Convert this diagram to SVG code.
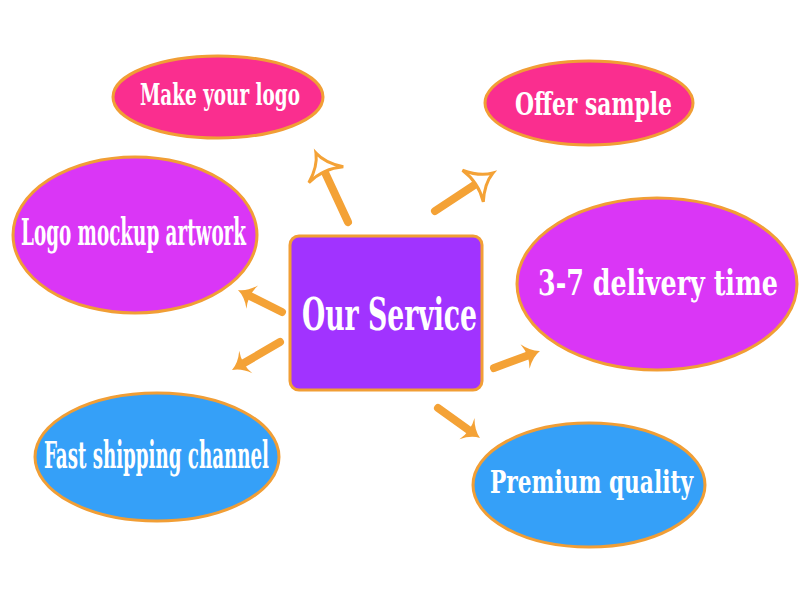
<svg xmlns="http://www.w3.org/2000/svg" width="800" height="600" viewBox="0 0 800 600">
<style>
.node{stroke:#F19E35;stroke-width:3}
.pink{fill:#FA2E8F}
.violet{fill:#DA36F6}
.blue{fill:#35A0F8}
.center{fill:#A133FF}
.lbl{fill:#FFFFFF;font-family:"DejaVu Serif Condensed","DejaVu Serif","Liberation Serif",serif;font-weight:bold;font-stretch:condensed}
.shaft{stroke:#F4A236;stroke-width:8;stroke-linecap:round;fill:none}
</style>
<defs>
<marker id="headFill" markerUnits="userSpaceOnUse" markerWidth="40" markerHeight="40" viewBox="-4 -20 40 40" refX="3" refY="0" orient="auto" overflow="visible">
<path d="M16,0 Q7,-3 0,-13 Q5,0 0,13 Q7,3 16,0 Z" fill="#F4A236"/>
</marker>
<marker id="headOpen" markerUnits="userSpaceOnUse" markerWidth="50" markerHeight="50" viewBox="-6 -25 50 50" refX="3.5" refY="0" orient="auto" overflow="visible">
<path d="M24,0 Q11,-4 0,-19 Q7,0 0,19 Q11,4 24,0 Z" fill="#FFFFFF" stroke="#F4A236" stroke-width="3" stroke-linejoin="miter"/>
</marker>
</defs>
<rect width="800" height="600" fill="#FFFFFF"/>
<g id="connectors">
<line class="shaft" x1="348" y1="222" x2="324.6" y2="171.6" marker-end="url(#headOpen)"/>
<line class="shaft" x1="435" y1="211" x2="475.8" y2="184.2" marker-end="url(#headOpen)"/>
<line class="shaft" x1="282" y1="312" x2="249.6" y2="295.8" marker-end="url(#headFill)"/>
<line class="shaft" x1="280" y1="342" x2="243.2" y2="363.5" marker-end="url(#headFill)"/>
<line class="shaft" x1="494" y1="368" x2="527.8" y2="355.5" marker-end="url(#headFill)"/>
<line class="shaft" x1="438" y1="408" x2="469.4" y2="430.4" marker-end="url(#headFill)"/>
</g>
<g id="make-your-logo">
<ellipse class="node pink" cx="218" cy="97" rx="105" ry="41"/>
<text class="lbl" x="140" y="105" font-size="30" textLength="160" lengthAdjust="spacingAndGlyphs">Make your logo</text>
</g>
<g id="offer-sample">
<ellipse class="node pink" cx="589" cy="103" rx="104" ry="42"/>
<text class="lbl" x="515" y="115" font-size="32" textLength="157" lengthAdjust="spacingAndGlyphs">Offer sample</text>
</g>
<g id="logo-mockup-artwork">
<ellipse class="node violet" cx="135" cy="235" rx="122" ry="78"/>
<text class="lbl" x="21" y="245" font-size="38" textLength="225" lengthAdjust="spacingAndGlyphs">Logo mockup artwork</text>
</g>
<g id="delivery-time">
<ellipse class="node violet" cx="657" cy="284" rx="140" ry="86"/>
<text class="lbl" x="538" y="295" font-size="36" textLength="240" lengthAdjust="spacingAndGlyphs">3-7 delivery time</text>
</g>
<g id="fast-shipping-channel">
<ellipse class="node blue" cx="157" cy="457" rx="122" ry="64"/>
<text class="lbl" x="44" y="468" font-size="38" textLength="225" lengthAdjust="spacingAndGlyphs">Fast shipping channel</text>
</g>
<g id="premium-quality">
<ellipse class="node blue" cx="589" cy="485" rx="116" ry="62"/>
<text class="lbl" x="490" y="493" font-size="32" textLength="203" lengthAdjust="spacingAndGlyphs">Premium quality</text>
</g>
<g id="our-service">
<rect class="node center" x="290" y="236" width="192" height="154" rx="9"/>
<text class="lbl" x="302" y="330" font-size="44" textLength="175" lengthAdjust="spacingAndGlyphs">Our Service</text>
</g>
</svg>
